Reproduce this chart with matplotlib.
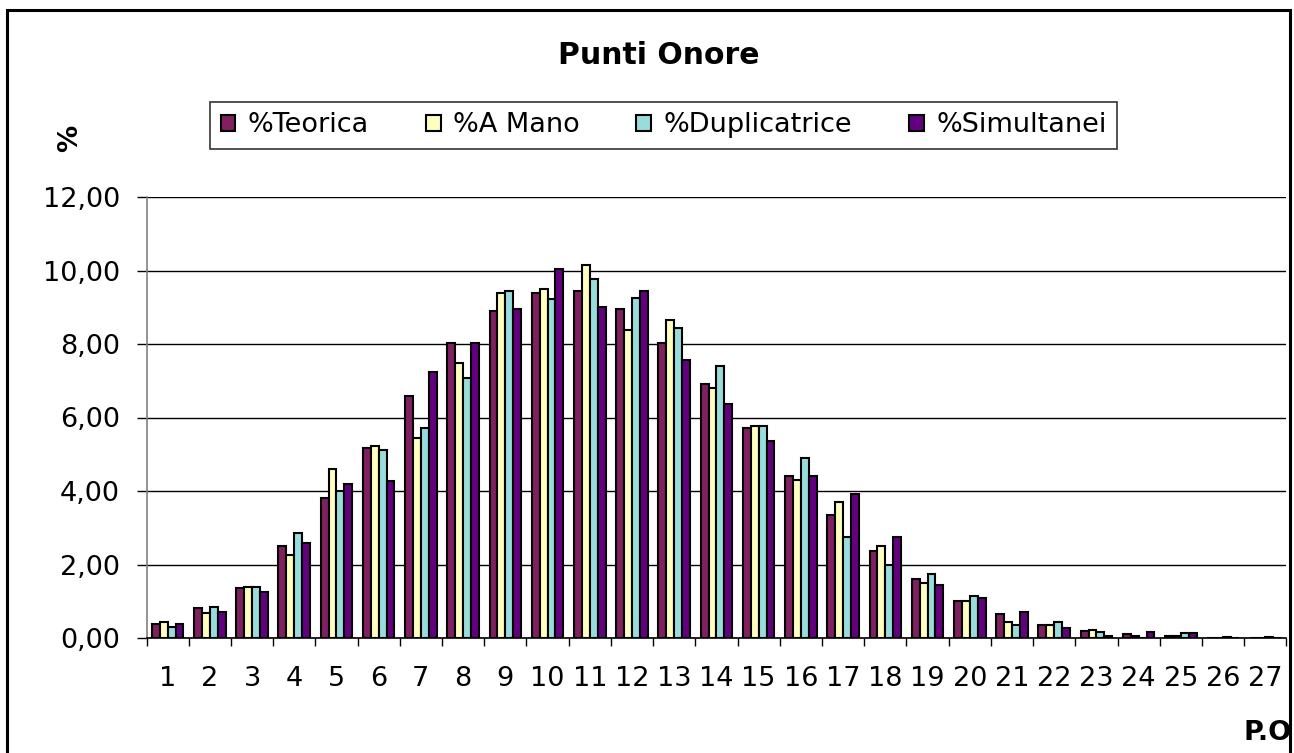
import matplotlib
matplotlib.use("Agg")
import matplotlib.pyplot as plt
import numpy as np
from matplotlib.patches import Rectangle

categories = [str(i) for i in range(1, 28)]
teorica = [0.37, 0.81, 1.35, 2.49, 3.82, 5.18, 6.59, 8.04, 8.90, 9.39, 9.45, 8.96, 8.04, 6.90,
           5.71, 4.41, 3.35, 2.37, 1.61, 1.01, 0.65, 0.36, 0.20, 0.12, 0.06, 0.0, 0.0]
a_mano = [0.43, 0.69, 1.40, 2.26, 4.59, 5.23, 5.44, 7.48, 9.39, 9.49, 10.16, 8.37, 8.64, 6.80,
          5.78, 4.31, 3.71, 2.49, 1.50, 1.01, 0.43, 0.36, 0.22, 0.06, 0.06, 0.0, 0.0]
duplicatrice = [0.31, 0.85, 1.40, 2.86, 3.99, 5.12, 5.71, 7.07, 9.44, 9.23, 9.76, 9.24, 8.43, 7.39,
                5.78, 4.91, 2.76, 2.00, 1.73, 1.13, 0.36, 0.43, 0.15, 0.0, 0.13, 0.04, 0.04]
simultanei = [0.37, 0.70, 1.25, 2.58, 4.20, 4.26, 7.23, 8.04, 8.96, 10.04, 9.01, 9.45, 7.57, 6.37,
              5.35, 4.41, 3.93, 2.76, 1.45, 1.08, 0.70, 0.26, 0.06, 0.16, 0.13, 0.0, 0.0]
series_names = ["%Teorica", "%A Mano", "%Duplicatrice", "%Simultanei"]
yticks = [0, 2, 4, 6, 8, 10, 12]
ytick_labels = ["0,00", "2,00", "4,00", "6,00", "8,00", "10,00", "12,00"]

colors = ["#802060", "#FFFFC0", "#99DCDC", "#640080"]

plt.rcParams['font.family'] = ['DejaVu Sans']
FS = 19.5

W, H = 1294, 753
fig = plt.figure(figsize=(W / 100, H / 100), dpi=100)
ax = fig.add_axes([146.5 / W, 1 - 638 / H, (1286.4 - 146.5) / W, (638 - 197) / H])

x = np.arange(len(categories))
bw = 0.187
all_series = [teorica, a_mano, duplicatrice, simultanei]
handles = []
for i, (vals, c, name) in enumerate(zip(all_series, colors, series_names)):
    b = ax.bar(x + (i - 1.5) * bw, vals, width=bw, color=c, edgecolor="black",
               linewidth=1.5, label=name, zorder=3)
    handles.append(b)

ax.set_xlim(-0.5, len(categories) - 0.5)
ax.set_ylim(0, 12)
ax.set_yticks(yticks)
ax.set_yticklabels(ytick_labels, fontsize=FS)
ax.set_xticks(x)
ax.set_xticklabels(categories, fontsize=FS)
ax.set_xticks(np.arange(-0.5, len(categories), 1.0), minor=True)
ax.tick_params(axis='x', which='major', length=0, pad=20)
ax.tick_params(axis='x', which='minor', length=6, width=1, color='black', direction='out')
ax.tick_params(axis='y', which='major', length=7, width=1, color='black', direction='out', pad=12)

ax.yaxis.grid(True, color='black', linewidth=1, zorder=0)
ax.set_axisbelow(True)
for s in ['top', 'right']:
    ax.spines[s].set_visible(False)
ax.spines['left'].set_color('#808080')
ax.spines['left'].set_linewidth(1.2)
ax.spines['bottom'].set_color('black')
ax.spines['bottom'].set_linewidth(1.2)

fig.text(659 / W, 1 - 56 / H, "Punti Onore", fontsize=21.5, fontweight='bold',
         ha='center', va='center')
fig.text(70 / W, 1 - 138 / H, "%", fontsize=FS, fontweight='bold', rotation=90,
         ha='center', va='center')
fig.text(1292 / W, 1 - 733 / H, "P.O", fontsize=FS, fontweight='bold',
         ha='right', va='center')

leg = fig.legend(handles=handles, labels=series_names, loc='center',
                 bbox_to_anchor=(663.5 / W, 1 - 125.5 / H), ncol=4, fontsize=FS,
                 frameon=True, fancybox=False, edgecolor='black', handlelength=0.55,
                 handleheight=0.55, handletextpad=0.45, columnspacing=2.1,
                 borderpad=0.38, borderaxespad=0)
leg.get_frame().set_linewidth(1.2)

fig.patches.append(Rectangle((7 / W, -0.05), (1290 - 7) / W, 1 - 10 / H + 0.05,
                             transform=fig.transFigure, fill=False,
                             edgecolor='black', linewidth=2.2))

fig.savefig("out.png", dpi=100, facecolor='white')
